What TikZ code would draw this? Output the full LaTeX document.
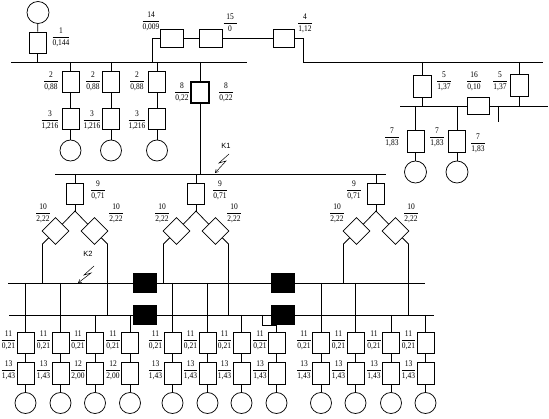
\documentclass[tikz,border=0pt]{standalone}
\usepackage{fontspec}
\setmainfont{Liberation Serif}
\newfontfamily\ksans{Liberation Sans}
\usetikzlibrary{arrows.meta,calc}
\newcommand\fr[2]{\scalebox{1}[1.15]{$\displaystyle\frac{\mbox{#1}}{\mbox{#2}}$}}
\begin{document}
\begin{tikzpicture}[x=1pt,y=-1pt,line width=0.75pt,
 box/.style={draw,minimum width=17pt,minimum height=21pt,inner sep=0pt},
 hbox/.style={draw,minimum width=23pt,minimum height=18pt,inner sep=0pt},
 gen/.style={draw,circle,minimum size=21pt,inner sep=0pt},
 brk/.style={draw,fill=black,minimum width=23pt,minimum height=19pt,inner sep=0pt},
 dia/.style={draw,minimum size=19pt,rotate=45,inner sep=0pt},
 lab/.style={font=\fontsize{7.5}{8.5}\selectfont,inner sep=0pt},
 klab/.style={font=\ksans\fontsize{7.5}{8}\selectfont,inner sep=0pt},
 bolt/.style={-{Straight Barb[length=3pt,width=3.5pt]},line width=0.5pt}]
\useasboundingbox (0,0) rectangle (549,419);
% ---------- top left ----------
\coordinate (A1) at (11,62); \coordinate (A2) at (247,62);
\draw (A1) -- (A2);
\node[gen,minimum size=22pt] (g1) at (38,12.5) {};
\node[box] (b1) at (37.5,42.5) {};
\node[lab] (l1) at (61,37) {\fr{1}{0,144}};
\draw (g1) -- (b1);
\draw (b1) -- (b1.south |- A1);
\foreach \x/\n/\da/\db in {70.5/a/19.5/20.5,111/b/18/19,157/c/20/20}{
  \node[box] (b2\n) at (\x,81.5) {};
  \node[box] (b3\n) at (\x,119) {};
  \node[gen] (g3\n) at (\x,150.5) {};
  \draw (b2\n.north |- A1) -- (b2\n) -- (b3\n) -- (g3\n);
  \node[lab] at ({\x-\da},81) {\fr{2}{0,88}};
  \node[lab] at ({\x-\db},120) {\fr{3}{1,216}};
}
% ---------- top chain ----------
\node[hbox] (b14) at (171.5,38) {};
\node[hbox] (b15) at (210.5,38) {};
\node[hbox,minimum width=21pt] (b4) at (283.5,38) {};
\coordinate (J14) at (152,62);
\draw (J14) |- (b14.west);
\draw (b14) -- (b15) -- (b4);
\coordinate (B1) at (303,62); \coordinate (B2) at (543,62);
\draw (b4.east) -| (B1) -- (B2);
\node[lab] at (151,21) {\fr{14}{0,009}};
\node[lab] at (230,23) {\fr{15}{\makebox[13pt]{0}}};
\node[lab] at (305,23) {\fr{4}{1,12}};
% ---------- right part ----------
\coordinate (C1) at (400,106); \coordinate (C2) at (548,106);
\node[box,minimum width=18pt,minimum height=22pt] (b5a) at (422,86) {};
\node[box,minimum width=18pt,minimum height=22pt] (b5b) at (519,85.5) {};
\node[hbox,minimum width=22pt,minimum height=17pt] (b16) at (478,106) {};
\draw (C1) -- (b16.west);
\draw (b16.east) -- (C2);
\draw (b5a.north |- B1) -- (b5a) -- (b5a.south |- C1);
\draw (b5b.north |- B1) -- (b5b) -- (b5b.south |- C1);
\coordinate (tk) at (498,122);
\draw (tk |- C1) -- (tk);
\foreach \x/\n in {415.5/a,457/b}{
  \node[box,minimum height=22pt] (b7\n) at (\x,141) {};
  \node[gen,minimum size=22pt] (g7\n) at (\x,172) {};
  \draw (b7\n.north |- C1) -- (b7\n) -- (g7\n);
}
\node[lab] at (444,81) {\fr{5}{1,37}};
\node[lab] at (474,81) {\fr{16}{0,10}};
\node[lab] at (500,81) {\fr{5}{1,37}};
\node[lab] at (392,137) {\fr{7}{1,83}};
\node[lab] at (437,137) {\fr{7}{1,83}};
\node[lab] at (478,143) {\fr{7}{1,83}};
% ---------- box 8 and K1 bus ----------
\coordinate (D1) at (55,174); \coordinate (D2) at (386,174);
\draw (D1) -- (D2);
\node[box,minimum width=18pt,line width=1.3pt] (b8) at (200,92.5) {};
\draw (b8.north |- A1) -- (b8) -- (b8.south |- D1);
\node[lab] at (182,92) {\fr{8}{0,22}};
\node[lab] at (226,92) {\fr{8}{0,22}};
\node[klab] (k1) at (226,146) {K1};
\draw[bolt] (229,154) -- ++(-10,9) -- ++(7,-2) -- (215,173);
% ---------- bottom buses ----------
\coordinate (U1) at (8,283); \coordinate (U2) at (425,283);
\coordinate (L1) at (9,315); \coordinate (L2) at (434,315);
\node[brk] (cb1u) at (144.5,283) {};
\node[brk] (cb1l) at (144.5,315) {};
\node[brk] (cb2u) at (283,283) {};
\node[brk] (cb2l) at (283,315) {};
\draw (U1) -- (cb1u) -- (cb2u) -- (U2);
\draw (L1) -- (cb1l) -- (cb2l) -- (L2);
% ---------- transformer groups ----------
\foreach \cx/\n/\nl/\ll/\lr in {75/a/23/32/-41,196/b/24/34/-38,376/c/-22/39/-35}{
  \node[box] (b9\n) at (\cx,193.5) {};
  \coordinate (s\n) at (\cx,211);
  \node[dia] (dl\n) at ({\cx-19.5},231) {};
  \node[dia] (dr\n) at ({\cx+19.5},231) {};
  \draw (b9\n.north |- D1) -- (b9\n) -- (s\n);
  \draw (dl\n.east) -- (s\n) -- (dr\n.north);
  \coordinate (ul\n) at ({\cx-32.5},244);
  \coordinate (ur\n) at ({\cx+32.5},244);
  \draw (dl\n.west) -- (ul\n) -- (ul\n |- U1);
  \draw (dr\n.south) -- (ur\n) -- (ur\n |- L1);
  \node[lab] at ({\cx+\nl},190) {\fr{9}{0,71}};
  \node[lab] at ({\cx-\ll},213) {\fr{10}{2,22}};
  \node[lab] at ({\cx-\lr},213) {\fr{10}{2,22}};
}
\node[klab] (k2) at (88,254) {K2};
\draw[bolt] (94,266) -- ++(-10,9) -- ++(7,-2) -- (78,283);
% ---------- feeders ----------
\foreach \x/\b/\t [count=\i] in {25.5/U1/3,60.5/U1/3,95/L1/2,130/L1/2,172.5/U1/3,207.5/U1/3,241.5/L1/3,321/U1/3,355.5/U1/3,391/L1/3,425.5/L1/3}{
  \node[box] (f\i) at (\x,342.5) {};
  \node[box,minimum height=22pt] (h\i) at (\x,373) {};
  \node[gen] (c\i) at (\x,403) {};
  \draw (f\i.north |- \b) -- (f\i) -- (h\i) -- (c\i);
  \node[lab] at ({\x-17},340) {\fr{11}{0,21}};
  \node[lab] at ({\x-17},370) {\ifnum\t=2 \fr{12}{2,00}\else\fr{13}{1,43}\fi};
}
\node[box] (fj) at (276.5,342.5) {};
\node[box,minimum height=22pt] (hj) at (276.5,373) {};
\node[gen] (cj) at (276.5,403) {};
\coordinate (jt) at (262,325);
\draw (jt |- L1) -- (jt) -| (fj.north);
\draw (fj) -- (hj) -- (cj);
\node[lab] at (260,340) {\fr{11}{0,21}};
\node[lab] at (260,370) {\fr{13}{1,43}};
\end{tikzpicture}
\end{document}
